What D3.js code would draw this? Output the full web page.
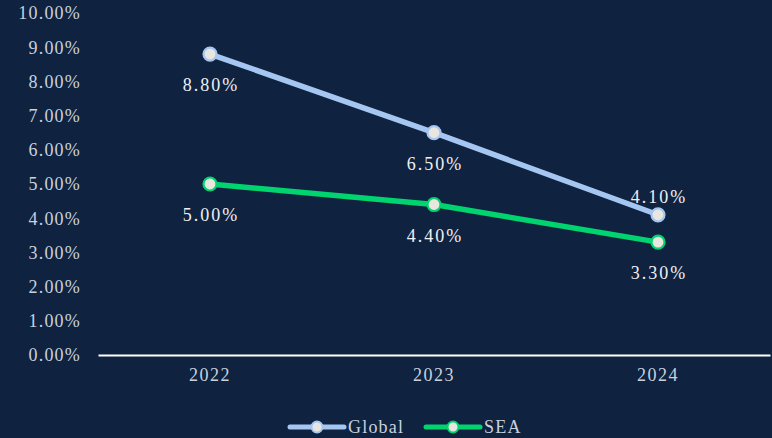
<!DOCTYPE html>
<html>
<head>
<meta charset="utf-8">
<script src="https://cdn.jsdelivr.net/npm/d3@7"></script>
<style>
  html, body { margin: 0; padding: 0; background: #0f2341; }
  svg { display: block; }
  text { font-family: "Liberation Serif", "Times New Roman", serif; }
</style>
</head>
<body>
<svg id="chart" width="772" height="438"></svg>
<script>
const years = ["2022", "2023", "2024"];
const globalValues = [8.8, 6.5, 4.1];
const seaValues = [5.0, 4.4, 3.3];
const yTicks = [0, 1, 2, 3, 4, 5, 6, 7, 8, 9, 10];

const series = [
  { name: "Global", values: globalValues, color: "#a6c6f2", labelPos: ["below", "below", "above"] },
  { name: "SEA", values: seaValues, color: "#00d46e", labelPos: ["below", "below", "below"] }
];

const W = 772, H = 438;
const svg = d3.select("#chart");
svg.append("rect").attr("width", W).attr("height", H).attr("fill", "#0f2341");

const x = d3.scaleBand().domain(years).range([98, 770]);
const y = d3.scaleLinear().domain([0, 10]).range([355, 13]);

// y tick labels (no axis line)
svg.append("g").selectAll("text").data(yTicks).join("text")
  .attr("x", 81).attr("y", d => y(d)).attr("dy", "0.35em")
  .attr("text-anchor", "end")
  .attr("fill", "#c9d1dd").attr("font-size", 18).attr("letter-spacing", 1.2)
  .text(d => d.toFixed(2) + "%");

// x axis
const xAxis = svg.append("g").attr("transform", `translate(0,${y(0)})`)
  .call(d3.axisBottom(x).tickSize(0).tickPadding(13));
xAxis.select(".domain").attr("stroke", "#ffffff").attr("stroke-width", 2);
xAxis.selectAll("text").attr("fill", "#c9d1dd").attr("font-size", 18)
  .attr("letter-spacing", 1.5);

const line = d3.line().x((d, i) => x(years[i]) + x.bandwidth() / 2).y(d => y(d));

series.forEach(s => {
  const g = svg.append("g");
  g.append("path").datum(s.values).attr("d", line)
    .attr("fill", "none").attr("stroke", s.color).attr("stroke-width", 5.5)
    .attr("stroke-linecap", "round").attr("stroke-linejoin", "round");
  g.selectAll("circle").data(s.values).join("circle")
    .attr("cx", (d, i) => x(years[i]) + x.bandwidth() / 2)
    .attr("cy", d => y(d)).attr("r", 6.5)
    .attr("fill", "#e9e6df").attr("stroke", s.color).attr("stroke-width", 2.2);
  g.selectAll("text").data(s.values).join("text")
    .attr("x", (d, i) => x(years[i]) + x.bandwidth() / 2 + 1)
    .attr("y", (d, i) => y(d) + (s.labelPos[i] === "below" ? 31 : -18))
    .attr("text-anchor", "middle").attr("dy", "0.35em")
    .attr("fill", "#eef0f2").attr("font-size", 18).attr("letter-spacing", 2)
    .text(d => d.toFixed(2) + "%");
});

// legend
const legend = svg.append("g").attr("transform", "translate(0,427)");
const legendItems = [{ s: series[0], x0: 290 }, { s: series[1], x0: 426 }];
legendItems.forEach(({ s, x0 }) => {
  legend.append("line").attr("x1", x0).attr("x2", x0 + 54).attr("y1", 0).attr("y2", 0)
    .attr("stroke", s.color).attr("stroke-width", 5).attr("stroke-linecap", "round");
  legend.append("circle").attr("cx", x0 + 27).attr("cy", 0).attr("r", 5.5)
    .attr("fill", "#e9e6df").attr("stroke", s.color).attr("stroke-width", 2);
  legend.append("text").attr("x", x0 + 58).attr("y", 0).attr("dy", "0.35em")
    .attr("fill", "#c9d1dd").attr("font-size", 18).attr("letter-spacing", 1.2)
    .text(s.name);
});
</script>
</body>
</html>
